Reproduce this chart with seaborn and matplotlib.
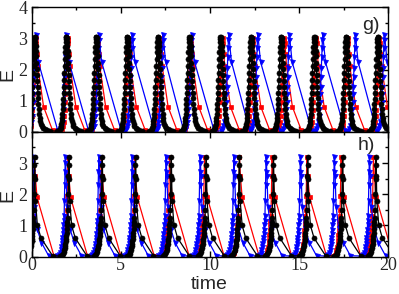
import matplotlib
matplotlib.use("Agg")
import matplotlib.pyplot as plt
from matplotlib.ticker import MultipleLocator
import numpy as np
import pandas as pd
import seaborn as sns

# spike times (time of each peak)
TOP_BLACK_PEAKS = [0.17, 1.94, 3.62, 5.36, 7.08, 8.85, 10.59, 12.30, 13.99, 15.85, 17.63, 19.40]
TOP_RED_PEAKS = [0.22, 2.03, 3.70, 5.42, 7.20, 8.92, 10.70, 12.40, 14.17, 15.95, 17.72, 19.50]
TOP_BLUE_PEAKS = [0.22, 1.94, 3.77, 5.64, 7.36, 8.98, 11.05, 12.68, 14.45, 16.32, 18.15, 19.78]

BOT_BLACK_PEAKS = [0.17, 2.09, 3.96, 5.83, 7.83, 9.79, 11.65, 13.56, 15.48, 17.44, 19.31]
BOT_RED_PEAKS = [0.15, 2.03, 3.90, 5.77, 7.73, 9.69, 11.65, 13.48, 15.43, 17.35, 19.16]
BOT_BLUE_PEAKS = [0.05, 1.89, 3.77, 5.64, 7.54, 9.45, 11.34, 13.15, 15.07, 16.97, 18.94]

TOP_BLACK_DT = [-0.50, -0.42, -0.36, -0.32, -0.29, -0.27, -0.25, -0.23, -0.215, -0.20,
                -0.185, -0.17, -0.155, -0.14, -0.125, -0.11, -0.095, -0.08, -0.065, -0.05,
                -0.035, -0.02, -0.005, 0.01, 0.025, 0.04, 0.055, 0.07, 0.085, 0.10,
                0.115, 0.13, 0.145, 0.16, 0.175, 0.19, 0.21, 0.23, 0.255, 0.28,
                0.31, 0.35, 0.40, 0.47, 0.56, 0.68, 0.85]
TOP_BLACK_E = [0.02, 0.04, 0.08, 0.13, 0.19, 0.26, 0.35, 0.46, 0.58, 0.72,
               0.88, 1.05, 1.25, 1.45, 1.67, 1.90, 2.12, 2.35, 2.55, 2.72,
               2.87, 2.98, 3.05, 3.05, 3.00, 2.90, 2.77, 2.60, 2.42, 2.22,
               2.02, 1.82, 1.62, 1.43, 1.25, 1.08, 0.90, 0.74, 0.58, 0.46,
               0.35, 0.26, 0.19, 0.13, 0.09, 0.06, 0.04]
TOP_RED_DT = [-0.42, -0.34, -0.28, -0.24, -0.21, -0.185, -0.16, -0.14, -0.12, -0.10,
              -0.08, -0.06, -0.04, -0.02, 0.0, 0.03, 0.07, 0.12, 0.45, 0.95]
TOP_RED_E = [0.03, 0.08, 0.18, 0.32, 0.50, 0.70, 0.95, 1.20, 1.50, 1.80,
             2.10, 2.45, 2.75, 2.95, 3.02, 2.85, 2.50, 2.10, 0.80, 0.05]
TOP_BLUE_DT = [-0.45, -0.36, -0.30, -0.26, -0.22, -0.19, -0.16, -0.14, -0.12, -0.10,
               -0.08, -0.06, -0.04, -0.02, 0.0, 0.15, 1.25]
TOP_BLUE_E = [0.03, 0.08, 0.18, 0.32, 0.50, 0.72, 0.95, 1.20, 1.45, 1.75,
              2.05, 2.40, 2.70, 2.95, 3.12, 2.25, 0.03]

BOT_BLACK_DT = [-0.48, -0.40, -0.34, -0.30, -0.27, -0.24, -0.22, -0.20, -0.18, -0.165,
                -0.15, -0.135, -0.12, -0.105, -0.09, -0.075, -0.06, -0.045, -0.03, -0.015,
                0.0, 0.02, 0.04, 0.15, 0.35, 1.00]
BOT_BLACK_E = [0.02, 0.05, 0.09, 0.14, 0.20, 0.27, 0.34, 0.42, 0.50, 0.58,
               0.67, 0.77, 0.88, 1.00, 1.12, 1.25, 1.50, 2.00, 2.60, 2.95,
               3.20, 2.50, 1.80, 1.00, 0.60, 0.03]
BOT_RED_DT = [-0.45, -0.36, -0.30, -0.26, -0.23, -0.20, -0.18, -0.16, -0.14, -0.12,
              -0.10, -0.08, -0.06, -0.04, -0.02, 0.0, 0.05, 0.15, 1.10]
BOT_RED_E = [0.02, 0.06, 0.12, 0.20, 0.30, 0.42, 0.55, 0.70, 0.85, 1.00,
             1.15, 1.30, 1.50, 1.95, 2.60, 3.20, 2.60, 1.90, 0.02]
BOT_BLUE_DT = [-0.45, -0.37, -0.31, -0.27, -0.24, -0.21, -0.19, -0.17, -0.15, -0.13,
               -0.11, -0.09, -0.07, -0.055, -0.04, -0.025, -0.01, 0.0, 0.04, 0.10,
               0.25, 0.50, 0.90]
BOT_BLUE_E = [0.02, 0.06, 0.12, 0.20, 0.30, 0.40, 0.50, 0.60, 0.72, 0.85,
              1.00, 1.15, 1.30, 1.80, 2.30, 2.70, 3.00, 3.20, 2.60, 1.60,
              0.90, 0.45, 0.03]


def build_series(peaks, dts, es):
    """lay the spike shape at every peak, cut the tail where the next rise starts"""
    t, e = [], []
    for i, p in enumerate(peaks):
        stop = peaks[i + 1] + dts[0] if i + 1 < len(peaks) else np.inf
        for dt, v in zip(dts, es):
            if p + dt < stop:
                t.append(p + dt)
                e.append(v)
    return pd.DataFrame({"time": t, "E": e})


sns.set_style("ticks")
plt.rcParams["font.family"] = ["Liberation Serif", "DejaVu Serif"]

fig = plt.figure(figsize=(3.99, 2.94), dpi=100)
ax_top = fig.add_axes([0.0794, 0.5515, 0.894, 0.4237])
ax_bot = fig.add_axes([0.0794, 0.127, 0.894, 0.4245])

panels = [
    (ax_top, [(TOP_RED_PEAKS, TOP_RED_DT, TOP_RED_E, "#ff0000", "s", 3.0),
              (TOP_BLUE_PEAKS, TOP_BLUE_DT, TOP_BLUE_E, "#0000ff", "v", 3.6),
              (TOP_BLACK_PEAKS, TOP_BLACK_DT, TOP_BLACK_E, "black", "o", 3.6)],
     "g)", (0.95, 0.85), 0.464),
    (ax_bot, [(BOT_RED_PEAKS, BOT_RED_DT, BOT_RED_E, "#ff0000", "s", 3.0),
              (BOT_BLUE_PEAKS, BOT_BLUE_DT, BOT_BLUE_E, "#0000ff", "v", 3.6),
              (BOT_BLACK_PEAKS, BOT_BLACK_DT, BOT_BLACK_E, "black", "o", 3.6)],
     "h)", (0.938, 0.89), 0.487),
]

for ax, series, tag, tag_pos, ely in panels:
    for peaks, dts, es, col, mk, ms in series:
        df = build_series(peaks, dts, es)
        sns.lineplot(data=df, x="time", y="E", ax=ax, color=col, marker=mk,
                     markersize=ms, markeredgecolor=col, markeredgewidth=0.5,
                     linewidth=0.9, sort=False, estimator=None)
    ax.set_xlim(0, 20)
    ax.set_ylim(0, 4)
    ax.xaxis.set_major_locator(MultipleLocator(5))
    ax.xaxis.set_minor_locator(MultipleLocator(2.5))
    ax.yaxis.set_major_locator(MultipleLocator(1))
    ax.yaxis.set_minor_locator(MultipleLocator(0.5))
    ax.tick_params(which="both", direction="in", top=True, right=True,
                   labelsize=13, width=1.0, color="black")
    ax.tick_params(which="major", length=4)
    ax.tick_params(which="minor", length=2.2)
    ax.tick_params(axis="y", pad=3)
    ax.tick_params(axis="x", pad=0.5)
    for sp in ax.spines.values():
        sp.set_linewidth(1.0)
        sp.set_color("black")
    ax.set_ylabel("E", family="Liberation Sans", fontsize=14)
    ax.yaxis.set_label_coords(-0.044, ely)
    ax.text(tag_pos[0], tag_pos[1], tag, transform=ax.transAxes,
            ha="center", va="center", family="Liberation Sans", fontsize=14)

ax_top.set_xlabel("")
ax_top.tick_params(axis="x", labelbottom=False)
ax_top.set_yticks([0, 1, 2, 3, 4])
ax_bot.set_yticks([0, 1, 2, 3, 4])
ax_bot.set_yticklabels(["0", "1", "2", "3", ""])
ax_bot.set_xlabel("time", family="Liberation Sans", fontsize=14)
ax_bot.xaxis.set_label_coords(0.498, -0.151)

fig.savefig("out.png", dpi=100)
